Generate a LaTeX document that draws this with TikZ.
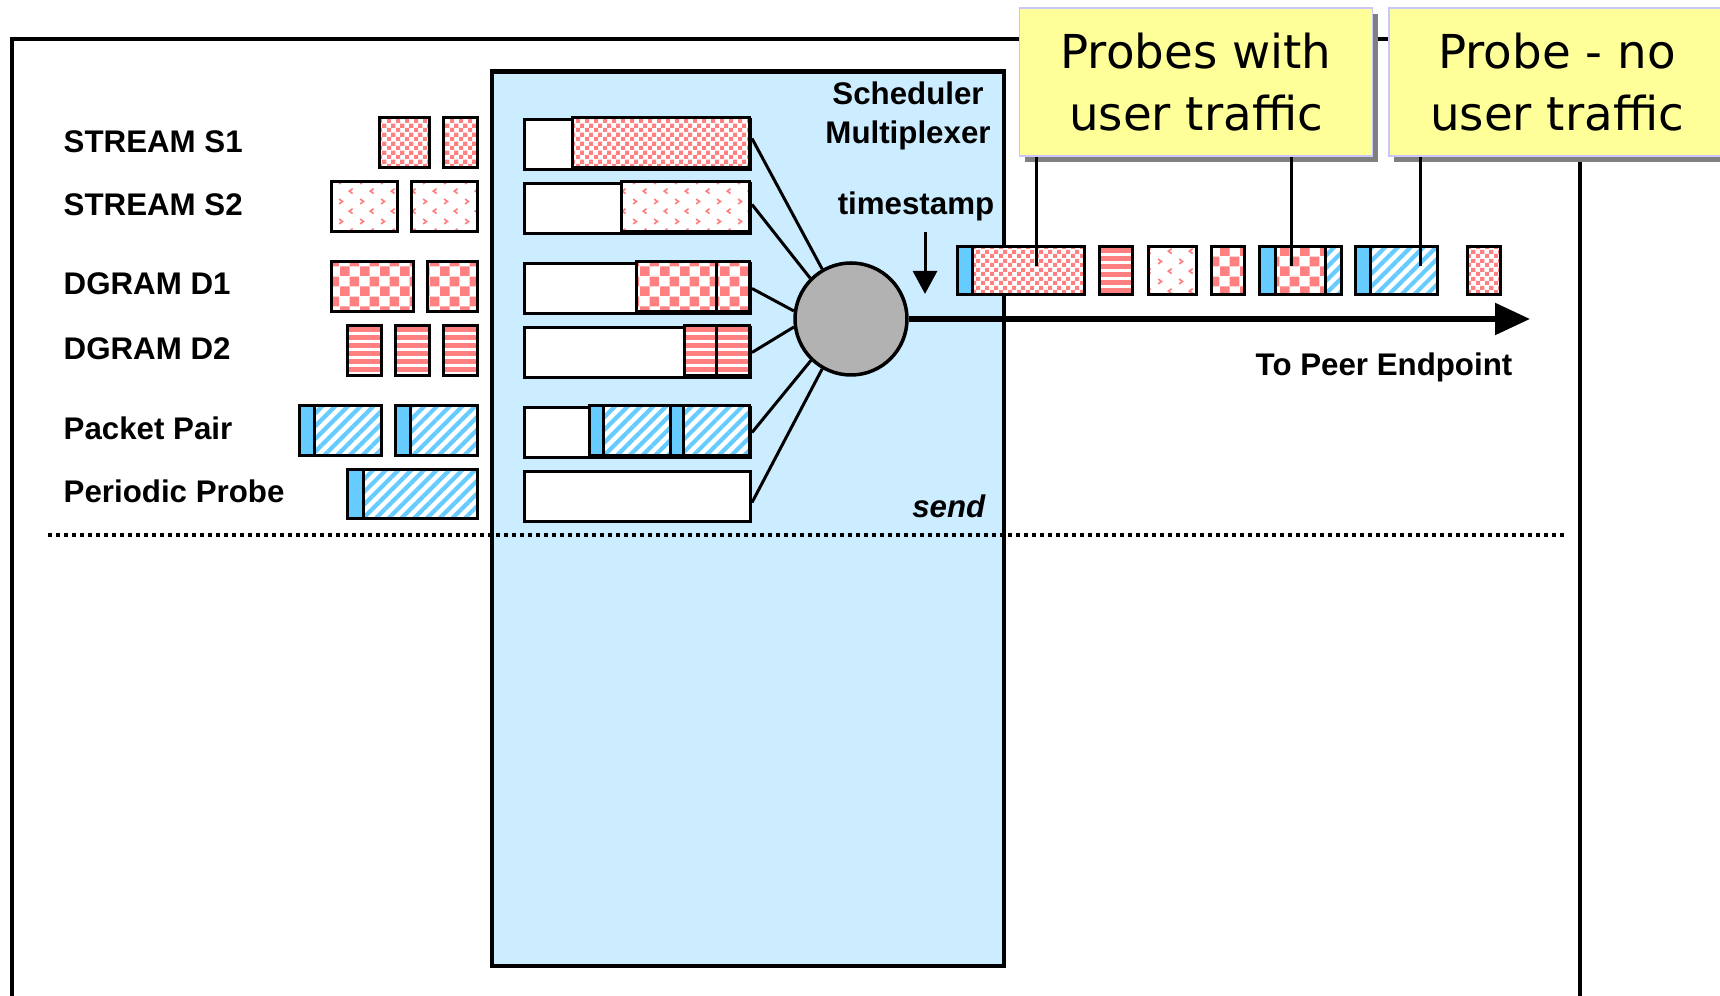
\documentclass[tikz,border=0pt]{standalone}
\usepackage{fontspec}
\setsansfont{Liberation Sans}
\newfontfamily\calloutfont{DejaVu Sans}
\usetikzlibrary{arrows.meta,patterns.meta,shadows}

\definecolor{pinkish}{HTML}{FF8080}
\definecolor{probeblue}{HTML}{66CCFF}
\definecolor{schedblue}{HTML}{CCECFF}
\definecolor{muxgray}{HTML}{B2B2B2}
\definecolor{calloutfill}{HTML}{FFFF99}
\definecolor{calloutrim}{HTML}{C8C8FF}
\definecolor{shadowgray}{HTML}{808080}

% packet fillings
\tikzdeclarepattern{
  name=finecheck,
  type=uncolored,
  bottom left={(0,0)},
  top right={(0.9mm,0.9mm)},
  tile size={(0.9mm,0.9mm)},
  code={
    \fill (0,0) rectangle (0.45mm,0.45mm);
    \fill (0.45mm,0.45mm) rectangle (0.9mm,0.9mm);
  }
}
\tikzdeclarepattern{
  name=coarsecheck,
  type=uncolored,
  bottom left={(0,0)},
  top right={(2mm,2mm)},
  tile size={(2mm,2mm)},
  code={
    \fill (0,0) rectangle (1mm,1mm);
    \fill (1mm,1mm) rectangle (2mm,2mm);
  }
}
\tikzdeclarepattern{
  name=chevrons,
  type=uncolored,
  bottom left={(0,0)},
  top right={(2.1mm,2mm)},
  tile size={(2.1mm,2mm)},
  code={
    \draw[line width=0.17mm] (0.33mm,1.75mm) -- (0.67mm,1.5mm) -- (0.33mm,1.25mm);
    \draw[line width=0.17mm] (1.72mm,0.75mm) -- (1.38mm,0.5mm) -- (1.72mm,0.25mm);
  }
}

\begin{document}
\begin{tikzpicture}[
tag/.style={inner sep=0pt, font=\sffamily\bfseries\fontsize{8.9}{11.1}\selectfont},
pkt/.style={draw, line width=0.3mm, preaction={fill=white}},
fine/.style={pkt, pattern=finecheck, pattern color=pinkish},
coarse/.style={pkt, pattern=coarsecheck, pattern color=pinkish},
zig/.style={pkt, pattern=chevrons, pattern color=pinkish},
bars/.style={pkt, path picture={
  \foreach \k in {0,...,6}
    \fill[pinkish] ([yshift=-0.15mm-\k*0.8mm]path picture bounding box.north west)
      rectangle ++(5mm,-0.5mm);}},
hatch/.style={pkt, pattern={Lines[angle=45,distance=0.9mm,line width=0.42mm]}, pattern color=probeblue},
tab/.style={draw, line width=0.3mm, fill=probeblue},
queue/.style={draw, line width=0.3mm, fill=white, inner sep=0pt, anchor=north west,
  minimum width=22.6mm, minimum height=5mm},
wire/.style={line width=0.3mm},
callout/.style={draw=calloutrim, line width=0.15mm, fill=calloutfill,
  minimum height=14.8mm, align=center,
  font=\calloutfont\fontsize{13.3}{17.6}\selectfont,
  general shadow={fill=shadowgray, shadow xshift=0.5mm, shadow yshift=-0.6mm}}
]
\useasboundingbox (0,0) rectangle (17.2,9.96);
\clip (0,0) rectangle (17.2,9.96);

% outer frame, open at the bottom
\draw[line width=0.4mm] (0.12,-1) rectangle (15.80,9.57);

% scheduler
\draw[line width=0.45mm, fill=schedblue] (4.92,0.30) rectangle (10.04,9.245);
\node[tag, align=center] (title) at (9.08,8.80) {Scheduler\\Multiplexer};
\node[tag, anchor=base, inner sep=1mm] (ts) at (9.16,7.81) {timestamp};
\node[tag, anchor=base east, font=\sffamily\bfseries\itshape\fontsize{8.9}{11.1}\selectfont]
  (send) at (9.86,4.78) {send};

% flows
\foreach \txt/\y [count=\i] in {STREAM S1/8.43, STREAM S2/7.80, DGRAM D1/7.01,
    DGRAM D2/6.36, Packet Pair/5.56, Periodic Probe/4.93}
  \node[tag, anchor=base west] (lab\i) at (0.63,\y) {\txt};

\draw[fine] (3.79,8.78) rectangle (4.29,8.28);
\draw[fine] (4.43,8.78) rectangle (4.77,8.28);
\draw[zig] (3.31,8.14) rectangle (3.97,7.64);
\draw[zig] (4.11,8.14) rectangle (4.77,7.64);
\draw[coarse] (3.31,7.34) rectangle (4.13,6.84);
\draw[coarse] (4.27,7.34) rectangle (4.77,6.84);
\foreach \x in {3.47,3.95,4.43}
  \draw[bars] (\x,6.70) rectangle ++(0.34,-0.50);
\draw[hatch] (3.14,5.90) rectangle (3.81,5.40);
\draw[tab] (2.99,5.90) rectangle (3.14,5.40);
\draw[hatch] (4.10,5.90) rectangle (4.77,5.40);
\draw[tab] (3.95,5.90) rectangle (4.10,5.40);
\draw[hatch] (3.63,5.26) rectangle (4.77,4.77);
\draw[tab] (3.47,5.26) rectangle (3.63,4.77);

% queues
\foreach \y [count=\i] in {8.78,8.14,7.34,6.70,5.90,5.26}
  \node[queue] (q\i) at (5.23,\y) {};

\draw[fine] (5.72,8.78) rectangle (7.49,8.28);
\draw[zig] (6.21,8.14) rectangle (7.49,7.64);
\draw[coarse] (6.36,7.34) rectangle (7.16,6.84);
\draw[coarse] (7.16,7.34) rectangle (7.49,6.84);
\draw[bars] (6.84,6.70) rectangle (7.16,6.20);
\draw[bars] (7.16,6.70) rectangle (7.49,6.20);
\draw[hatch] (6.03,5.90) rectangle (6.70,5.40);
\draw[tab] (5.89,5.90) rectangle (6.03,5.40);
\draw[hatch] (6.83,5.90) rectangle (7.49,5.40);
\draw[tab] (6.70,5.90) rectangle (6.83,5.40);

% multiplexer
\node[circle, draw, line width=0.35mm, fill=muxgray, inner sep=0pt, minimum size=11.2mm]
  (mux) at (8.51,6.77) {};
\foreach \i/\a/\b in {1/3/120, 2/2/135, 3/0/172, 4/0/188, 5/0/226, 6/-3/240}
  \draw[wire] (q\i.\a) -- (mux.\b);

\coordinate (tsend) at (9.25,7.02);
\draw[wire, -{Triangle[length=2.3mm,width=2.4mm]}] (ts.south -| tsend) -- (tsend);

\coordinate (peer) at (15.30,6.77);
\draw[line width=0.55mm, -{Triangle[length=3.5mm,width=3.1mm]}] (mux) -- (peer);
\node[tag, anchor=base east] (peerlab) at (15.13,6.20) {To Peer Endpoint};

% packets on the wire
\draw[fine] (9.72,7.49) rectangle (10.84,7.01);
\draw[tab] (9.57,7.49) rectangle (9.72,7.01);
\draw[bars] (10.99,7.49) rectangle (11.32,7.01);
\draw[zig] (11.48,7.49) rectangle (11.96,7.01);
\draw[coarse] (12.11,7.49) rectangle (12.44,7.01);
\draw[coarse] (12.75,7.49) rectangle (13.25,7.01);
\draw[hatch] (13.25,7.49) rectangle (13.41,7.01);
\draw[tab] (12.59,7.49) rectangle (12.75,7.01);
\draw[hatch] (13.70,7.49) rectangle (14.37,7.01);
\draw[tab] (13.55,7.49) rectangle (13.70,7.01);
\draw[fine] (14.67,7.49) rectangle (15.00,7.01);

% separator
\draw[line width=0.35mm, dash pattern=on 0.35mm off 0.45mm] (0.48,4.61) -- (15.64,4.61);

% callouts
\node[callout, minimum width=35.3mm] (c1) at (11.96,9.14) {Probes with\\user traffic};
\node[callout, minimum width=33.6mm] (c2) at (15.57,9.14) {Probe - no\\user traffic};

\coordinate (pin1) at (10.36,7.30);
\coordinate (pin2) at (12.91,7.30);
\coordinate (pin3) at (14.20,7.30);
\draw[wire] (c1.south -| pin1) -- (pin1);
\draw[wire] (c1.south -| pin2) -- (pin2);
\draw[wire] (c2.south -| pin3) -- (pin3);
\end{tikzpicture}
\end{document}
